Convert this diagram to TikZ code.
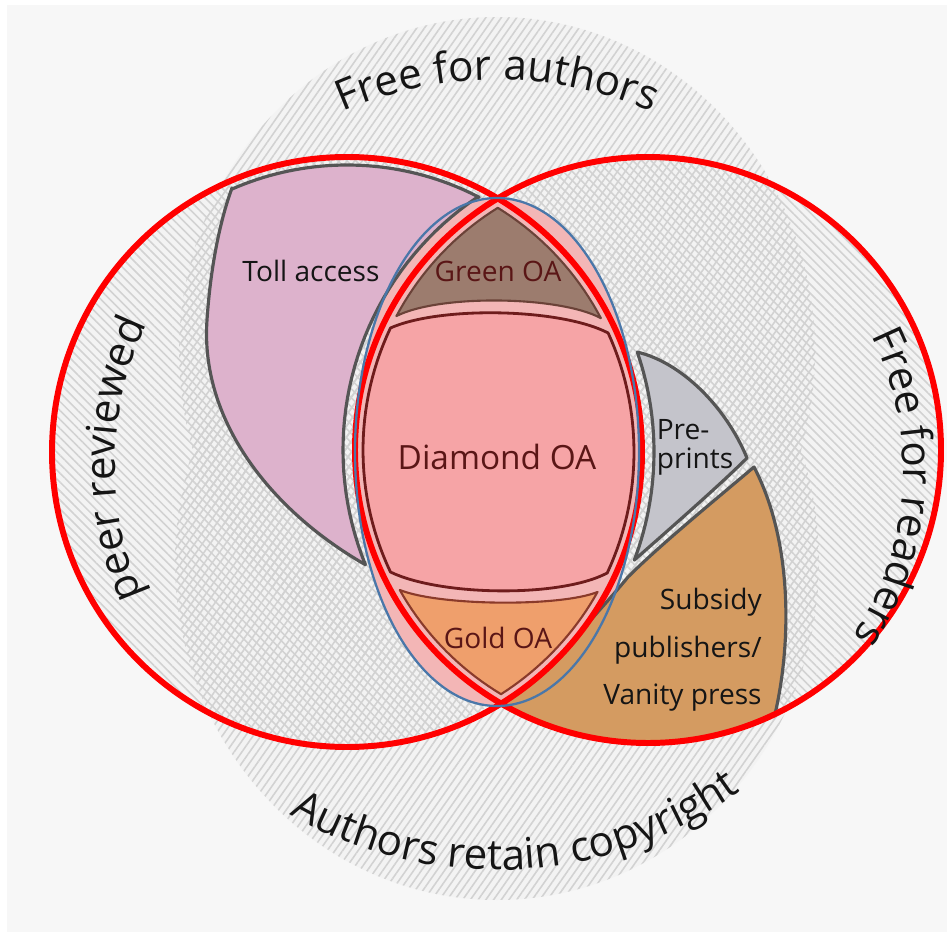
\documentclass[tikz,border=0pt]{standalone}
\usepackage{fontspec}
\setmainfont{Open Sans}
\usetikzlibrary{patterns.meta,decorations.text}
\definecolor{bgc}{HTML}{F7F7F7}
\definecolor{hatchbase}{HTML}{F3F3F3}
\definecolor{hatchline}{HTML}{D2D2D2}
\definecolor{tollc}{HTML}{DDB2CC}
\definecolor{greenc}{HTML}{9C7C6E}
\definecolor{greenline}{HTML}{6B4238}
\definecolor{diamc}{HTML}{F6A4A6}
\definecolor{goldc}{HTML}{EF9F6C}
\definecolor{goldline}{HTML}{8A3A2A}
\definecolor{prec}{HTML}{C4C4CB}
\definecolor{subc}{HTML}{D49B61}
\definecolor{lensc}{HTML}{F3B6B6}
\definecolor{outl}{HTML}{555555}
\definecolor{darkred}{HTML}{6E1C1C}
\definecolor{txtdark}{HTML}{5A1616}
\definecolor{txtc}{HTML}{151515}
\definecolor{redc}{HTML}{FF0000}
\definecolor{bluec}{HTML}{4A77A9}
\newcommand\outerfont{\fontsize{24}{28}\selectfont}
\begin{document}
\begin{tikzpicture}[x=0.02cm,y=-0.02cm,
  region/.style={line join=round, line width=1.8pt, draw=outl},
  inlbl/.style={inner sep=0pt, font=\fontsize{16}{19}\selectfont, text=txtc},
  hatchA/.style={pattern={Lines[angle=55,distance=3.6pt,line width=0.9pt]}, pattern color=hatchline},
  hatchB/.style={pattern={Lines[angle=-45,distance=3.6pt,line width=0.9pt]}, pattern color=hatchline},
  outertext/.style={decorate, decoration={text along path, text align=center, text color=txtc, text={|\outerfont|#1}}}]
\useasboundingbox (0,0) rectangle (947,932);
\fill[white] (0,0) rectangle (947,932);
\fill[bgc] (7,5) rectangle (947,932);

% hatched background sets
\fill[hatchbase] (497,352) ellipse[x radius=318, y radius=335];
\fill[hatchbase] (497,562) ellipse[x radius=322, y radius=338];
\fill[hatchbase] (345,452) circle[radius=292];
\fill[hatchbase] (650,450) circle[radius=290];
\fill[hatchA] (497,352) ellipse[x radius=318, y radius=335];
\fill[hatchA] (497,562) ellipse[x radius=322, y radius=338];
\fill[hatchB] (345,452) circle[radius=292];
\fill[hatchB] (650,450) circle[radius=290];

% lens tint
\fill[lensc] (497,452) ellipse[x radius=142, y radius=254];

% Toll access
\path[region, fill=tollc]
  plot[domain=246.5:297.4, samples=40, variable=\t] ({347+287*cos(\t)},{452+287*sin(\t)})
  -- plot[domain=0:78, samples=40, variable=\t] ({648+305*cos(235.9-\t)},{450+305*sin(235.9-\t)})
  .. controls (270,510) and (200,420) .. (207,320)
  .. controls (211,260) and (222,215) .. (232,188) -- cycle;

% Green OA
\path[fill=greenc, draw=greenline, line width=1.2pt, line join=round]
  (497.8,207.8) -- plot[domain=-58.3:-27.8, samples=20, variable=\t] ({347+287*cos(\t)},{452+287*sin(\t)})
  .. controls (560,296) and (440,294) .. (396.5,316)
  -- plot[domain=208:238.2, samples=20, variable=\t] ({648+285*cos(\t)},{450+285*sin(\t)}) -- cycle;

% Diamond OA
\path[fill=diamc, draw=darkred, line width=1.6pt, line join=round]
  (390.4,328) .. controls (440,306) and (560,308) .. (608.2,333)
  -- plot[domain=-24.5:24.9, samples=30, variable=\t] ({347+287*cos(\t)},{452+287*sin(\t)})
  -- (607.2,573) .. controls (560,598) and (440,596) .. (390.4,572)
  -- plot[domain=154.7:205.3, samples=30, variable=\t] ({648+285*cos(\t)},{450+285*sin(\t)})
  -- cycle;

% Gold OA
\path[fill=goldc, draw=goldline, line width=1.2pt, line join=round]
  (399.8,590) .. controls (440,606) and (560,607) .. (597.5,592)
  -- plot[domain=29.2:57.5, samples=20, variable=\t] ({347+287*cos(\t)},{452+287*sin(\t)})
  -- plot[domain=121:150.6, samples=20, variable=\t] ({648+285*cos(\t)},{450+285*sin(\t)})
  -- cycle;

% Pre-prints
\path[region, fill=prec]
  (637.3,352.1) .. controls (680,362) and (725,405) .. (747,458)
  .. controls (720,485) and (665,533) .. (634.4,560)
  -- plot[domain=0:39.6, samples=30, variable=\t] ({347+307*cos(20.6-\t)},{452+307*sin(20.6-\t)})
  -- cycle;

% Subsidy publishers / Vanity press
\path[region, fill=subc]
  (754,467) .. controls (715,500) and (660,545) .. (628,577)
  .. controls (605,605) and (585,625) .. (566,650)
  -- plot[domain=42.1:59.3, samples=20, variable=\t] ({347+295*cos(\t)},{452+295*sin(\t)})
  -- plot[domain=0:56.3, samples=40, variable=\t] ({648+293*cos(120.6-\t)},{450+293*sin(120.6-\t)})
  .. controls (792,640) and (792,540) .. (754,467) -- cycle;

% red circles and blue ellipse
\draw[redc, line width=3.4pt] (347,452) circle[radius=295];
\draw[redc, line width=3.4pt] (648,450) circle[radius=293];
\draw[bluec, line width=1.3pt] (497,452) ellipse[x radius=142, y radius=254];

% inner labels
\node[inlbl] (toll) at (311,271) {Toll access};
\node[inlbl, text=txtdark] (green) at (498,271) {Green OA};
\node[inlbl, text=txtdark, font=\fontsize{19}{22}\selectfont] (diamond) at (497,457) {Diamond OA};
\node[inlbl, text=txtdark] (gold) at (498,638) {Gold OA};
\node[inlbl, align=left, font=\fontsize{16}{16.5}\selectfont] (pre) at (695,447) {Pre-\\prints};
\node[inlbl, align=right, anchor=east, font=\fontsize{16}{27}\selectfont] (sub) at (762,650) {Subsidy\\publishers/\\Vanity press};

% outer curved labels
\path[outertext={Free for authors}]
  plot[domain=235:305, samples=90, variable=\t] ({497+392*cos(\t)},{472+392*sin(\t)});
\path[outertext={Authors retain copyright}]
  plot[domain=0:82, samples=100, variable=\t] ({497+415*cos(128-\t)},{455+415*sin(128-\t)});
\path[outertext={peer reviewed}]
  plot[domain=150:212, samples=80, variable=\t] ({440+325*cos(\t)},{465+325*sin(\t)});
\path[outertext={Free for readers}]
  plot[domain=-33:40, samples=90, variable=\t] ({598+305*cos(\t)},{470+305*sin(\t)});
\end{tikzpicture}
\end{document}
